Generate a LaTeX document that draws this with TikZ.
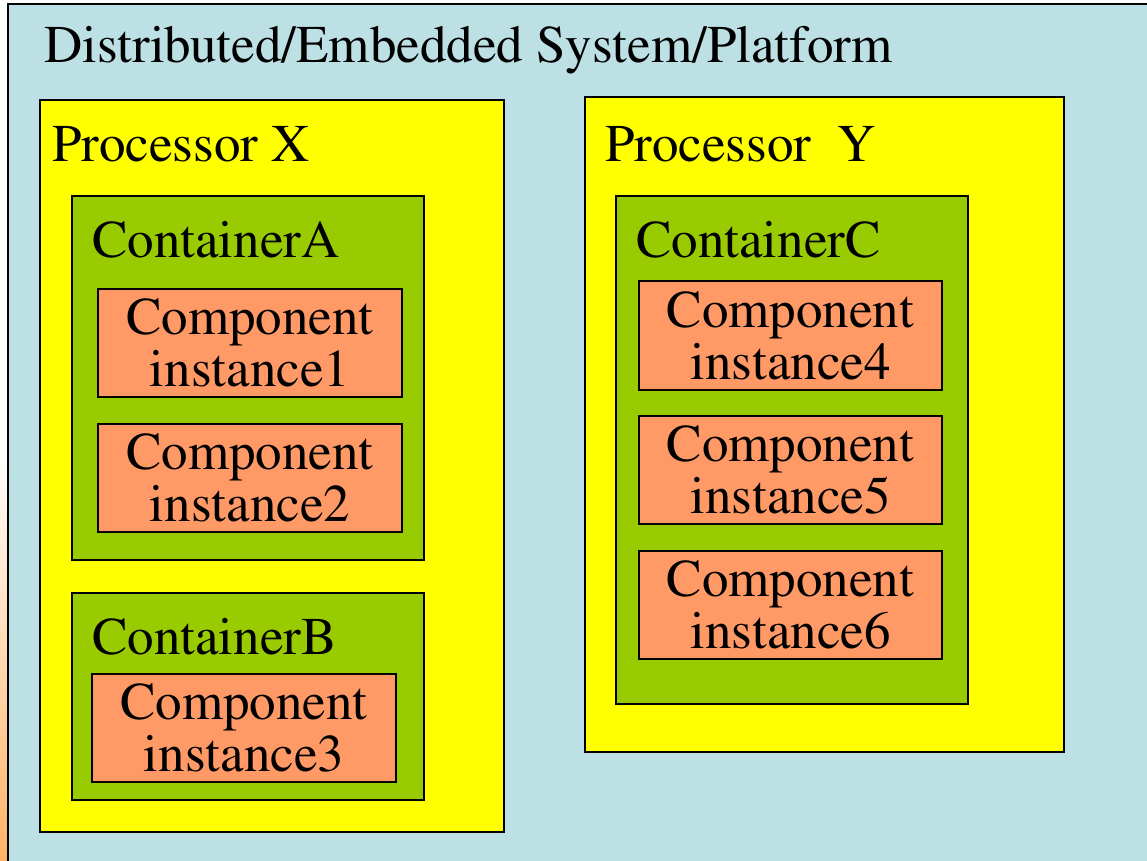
\documentclass[tikz,border=0pt]{standalone}
\usepackage[T1]{fontenc}
\usepackage{times}
\usepackage{xcolor}
\usetikzlibrary{positioning,calc}

\definecolor{platblue}{HTML}{BCE0E3}
\definecolor{procyellow}{HTML}{FFFF00}
\definecolor{contgreen}{HTML}{99CC00}
\definecolor{compsalmon}{HTML}{FF9966}
\newcommand{\boxfont}{\fontsize{53}{52}\selectfont}

\begin{document}
\begin{tikzpicture}[x=1pt, y=-1pt,
    platbox/.style={rectangle, draw, line width=1.6pt, fill=platblue, anchor=north west, inner sep=0pt, outer sep=0pt},
    procbox/.style={rectangle, draw, line width=1.6pt, fill=procyellow, anchor=north west, inner sep=0pt, outer sep=0pt},
    contbox/.style={rectangle, draw, line width=1.6pt, fill=contgreen, anchor=north west, inner sep=0pt, outer sep=0pt},
    compbox/.style={rectangle, draw, line width=1.6pt, fill=compsalmon, anchor=north west, inner sep=0pt, outer sep=0pt, align=center, font=\boxfont},
    boxtitle/.style={anchor=base west, inner sep=0pt, font=\boxfont}
]
\useasboundingbox (0,0) rectangle (1147,860);
\clip (0,0) rectangle (1147,860);

% Left edge
\fill[white] (0,0) rectangle (8,860);
\shade[top color=white, bottom color=orange!60] (0,450) rectangle (8,860);

% Platform
\node[platbox, minimum width=1170, minimum height=880] (platform) at (8,4) {};
\node[boxtitle] (platlbl) at (44,62) {Distributed/Embedded System/Platform};

% Processor X
\node[procbox, minimum width=464, minimum height=732] (procX) at (40,100) {};
\node[boxtitle] (procXlbl) at (52,161) {Processor X};

\node[contbox, minimum width=352, minimum height=364] (contA) at (72,196) {};
\node[boxtitle] (contAlbl) at (92,257) {ContainerA};
\node[compbox, minimum width=304, minimum height=108] (comp1) at (98,289) {Component\\instance1};
\node[compbox, minimum width=304, minimum height=108] (comp2) at (98,424) {Component\\instance2};

\node[contbox, minimum width=352, minimum height=207] (contB) at (72,593) {};
\node[boxtitle] (contBlbl) at (92,654) {ContainerB};
\node[compbox, minimum width=304, minimum height=108] (comp3) at (92,674) {Component\\instance3};

% Processor Y
\node[procbox, minimum width=479, minimum height=655] (procY) at (585,97) {};
\node[boxtitle] (procYlbl) at (605,161) {Processor\ \ Y};

\node[contbox, minimum width=352, minimum height=508] (contC) at (616,196) {};
\node[boxtitle] (contClbl) at (636,257) {ContainerC};
\node[compbox, minimum width=303, minimum height=109] (comp4) at (639,281) {Component\\instance4};
\node[compbox, minimum width=303, minimum height=108] (comp5) at (639,416) {Component\\instance5};
\node[compbox, minimum width=303, minimum height=108] (comp6) at (639,551) {Component\\instance6};

\end{tikzpicture}
\end{document}
